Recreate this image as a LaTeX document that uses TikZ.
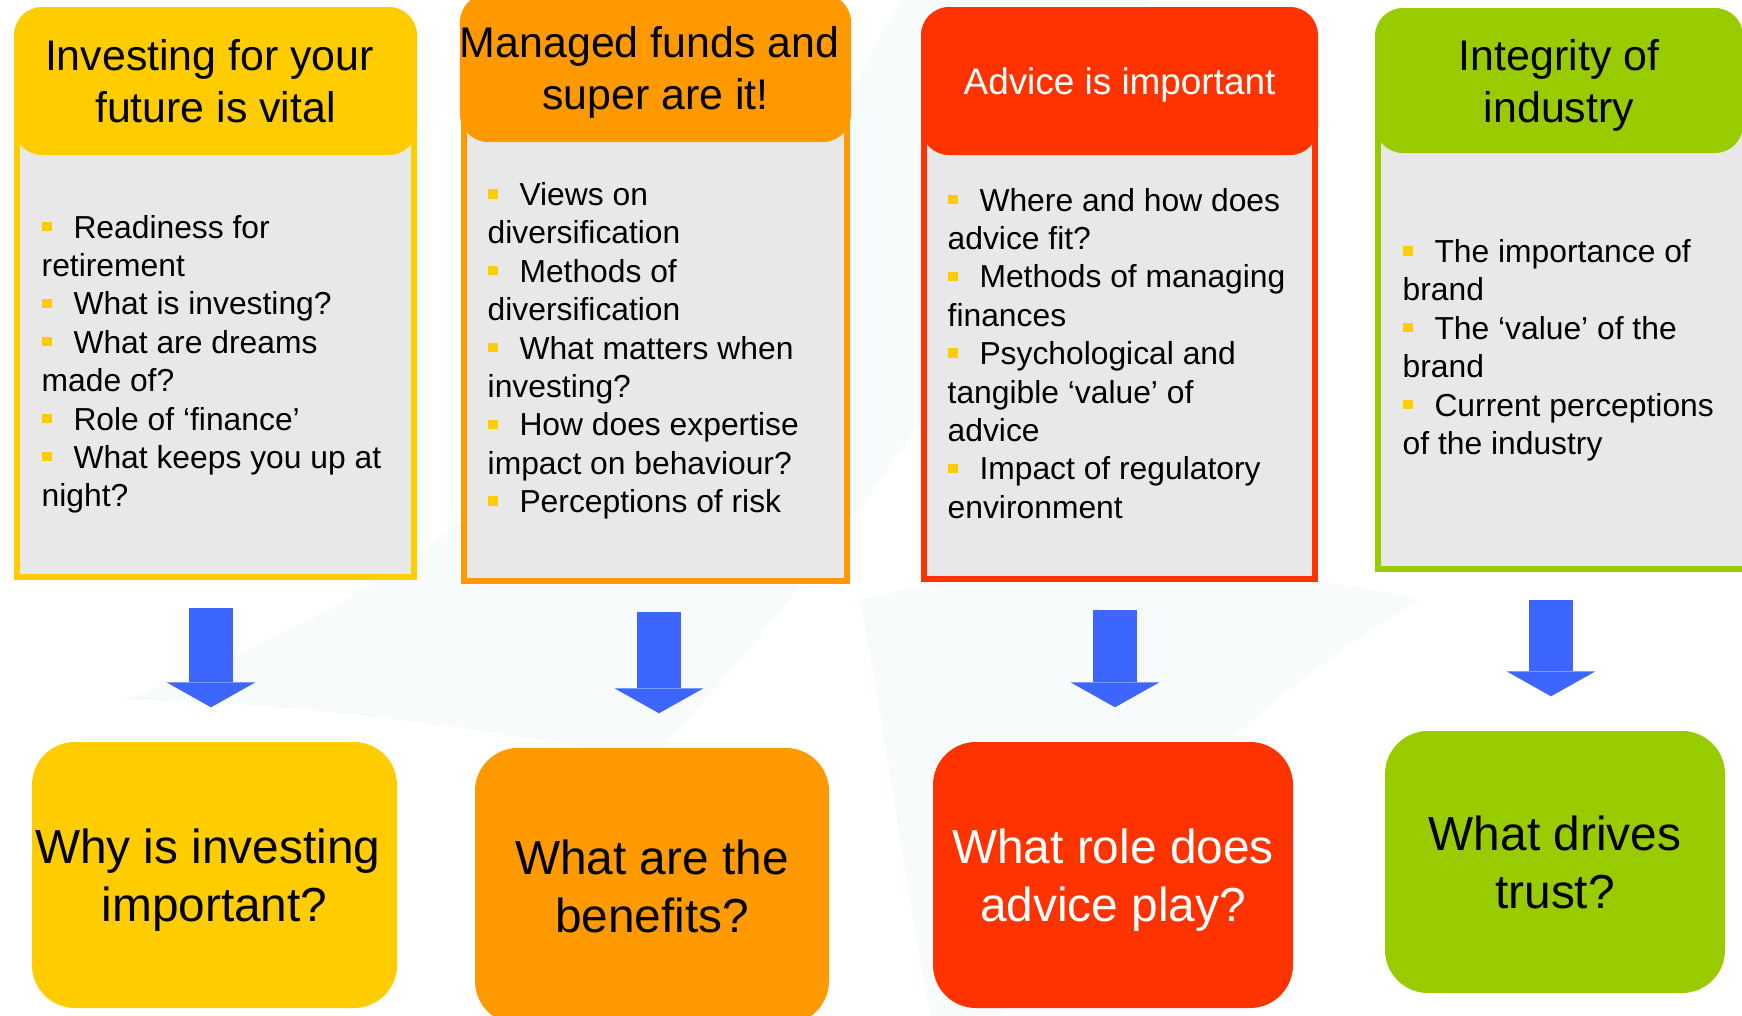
\documentclass[tikz,border=0pt]{standalone}
\usepackage{fontspec}
\usepackage{xcolor}
\setmainfont{Liberation Sans}
\usetikzlibrary{arrows.meta}

\definecolor{boxyellow}{HTML}{FFCC00}
\definecolor{boxorange}{HTML}{FF9900}
\definecolor{boxred}{HTML}{FF3300}
\definecolor{boxgreen}{HTML}{99CC00}
\definecolor{bodygray}{HTML}{E8E8E8}
\definecolor{arrowblue}{HTML}{3D66FF}
\definecolor{swoosh}{HTML}{F7FBFC}

\newcommand{\bul}{\textcolor{boxyellow}{\rule[0.22em]{0.31em}{0.29em}}\hspace{0.69em}}

\begin{document}
\begin{tikzpicture}[x=0.1mm, y=-0.1mm,
  head/.style={rounded corners=2.8mm, inner sep=0pt, align=center, text depth=0pt, font=\fontsize{12.2}{14.8}\selectfont},
  body/.style={line width=0.6mm, fill=bodygray, inner sep=0pt},
  points/.style={anchor=north west, inner sep=0pt, align=left, font=\fontsize{9.05}{10.92}\selectfont},
  question/.style={rounded corners=4.3mm, inner sep=0pt, align=center, text depth=0pt, font=\fontsize{13.6}{16.5}\selectfont},
  bigarrow/.style={arrowblue, line width=4.4mm, shorten <=2.8mm, shorten >=3.4mm,
    -{Triangle[length=2.5mm, width=8.9mm, line width=0pt]}}]
\useasboundingbox (0,0) rectangle (1742,1015);
\clip (0,0) rectangle (1742,1015);
\fill[white] (0,0) rectangle (1742,1015);
\fill[swoosh] (120,700) .. controls (450,600) and (750,300) .. (900,0) -- (1150,0)
  .. controls (1000,350) and (800,600) .. (650,760) .. controls (450,720) and (250,700) .. cycle;
\fill[swoosh] (860,600) .. controls (1000,560) and (1250,560) .. (1420,600)
  .. controls (1250,700) and (1100,850) .. (1000,1015) -- (930,1015) .. controls (900,850) and (880,700) .. cycle;

\node[body, draw=boxyellow, minimum width=39.7mm, minimum height=49.6mm] (b1) at (215.5,329) {};
\node[body, draw=boxorange, minimum width=38.3mm, minimum height=51.1mm] (b2) at (655.5,325.5) {};
\node[body, draw=boxred, minimum width=39.1mm, minimum height=49.8mm] (b3) at (1119.5,330) {};
\node[body, draw=boxgreen, minimum width=37.4mm, minimum height=48.9mm] (b4) at (1565,324.5) {};

\node[head, fill=boxyellow, minimum width=40.3mm, minimum height=14.8mm] (h1) at (215.5,81) {Investing for your\hspace*{0.28em}\\future is vital};
\node[head, fill=boxorange, minimum width=38.9mm, minimum height=14.8mm] (h2) at (655.5,68) {Managed funds and\hspace*{0.28em}\\super are it!};
\node[head, fill=boxred, text=white, minimum width=39.7mm, minimum height=14.8mm, font=\fontsize{10.5}{12.6}\selectfont] (h3) at (1119.5,81) {Advice is important};
\node[head, fill=boxgreen, minimum width=36.8mm, minimum height=14.5mm] (h4) at (1559,80.5) {Integrity of\\industry};

\node[points] (p1) at (41,210.6) {\strut\bul Readiness for\\retirement\\\bul What is investing?\\\bul What are dreams\\made of?\\\bul Role of ‘finance’\\\bul What keeps you up at\\night?};
\node[points] (p2) at (487,178) {\strut\bul Views on\\diversification\\\bul Methods of\\diversification\\\bul What matters when\\investing?\\\bul How does expertise\\impact on behaviour?\\\bul Perceptions of risk};
\node[points] (p3) at (947,183.6) {\strut\bul Where and how does\\advice fit?\\\bul Methods of managing\\finances\\\bul Psychological and\\tangible ‘value’ of\\advice\\\bul Impact of regulatory\\environment};
\node[points] (p4) at (1402,235) {\strut\bul The importance of\\brand\\\bul The ‘value’ of the\\brand\\\bul Current perceptions\\of the industry};

\node[question, fill=boxyellow, minimum width=36.5mm, minimum height=26.6mm] (q1) at (214.5,875) {Why is investing\hspace*{0.28em}\\important?};
\node[question, fill=boxorange, minimum width=35.4mm, minimum height=27.6mm] (q2) at (652,886) {What are the\\benefits?};
\node[question, fill=boxred, text=white, minimum width=36mm, minimum height=26.6mm] (q3) at (1113,875) {What role does\\advice play?};
\node[question, fill=boxgreen, minimum width=34mm, minimum height=26.2mm] (q4) at (1555,862) {What drives\\trust?};

\coordinate (x1) at (211,0);
\coordinate (x2) at (659,0);
\coordinate (x3) at (1115,0);
\coordinate (x4) at (1551,0);
\draw[bigarrow] (b1.south -| x1) -- (q1.north -| x1);
\draw[bigarrow] (b2.south -| x2) -- (q2.north -| x2);
\draw[bigarrow] (b3.south -| x3) -- (q3.north -| x3);
\draw[bigarrow] (b4.south -| x4) -- (q4.north -| x4);
\end{tikzpicture}
\end{document}
